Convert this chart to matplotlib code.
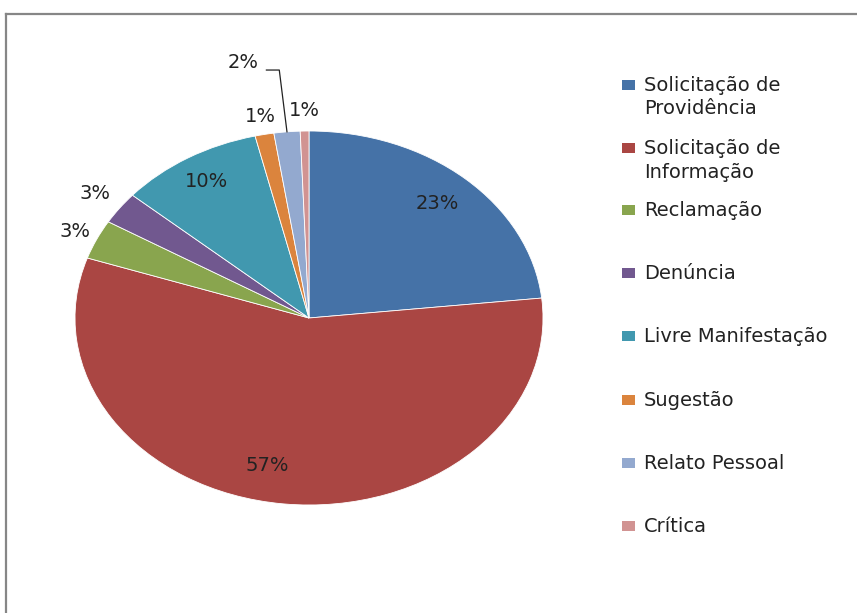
import numpy as np
import matplotlib.pyplot as plt
from matplotlib.patches import Rectangle
from matplotlib.lines import Line2D

categories = [
    "Solicitação de\nProvidência",
    "Solicitação de\nInformação",
    "Reclamação",
    "Denúncia",
    "Livre Manifestação",
    "Sugestão",
    "Relato Pessoal",
    "Crítica",
]
shares = [23.3, 56.9, 3.4, 2.8, 9.9, 1.3, 1.8, 0.6]
colors = ["#4572A7", "#AA4643", "#89A54E", "#71588F",
          "#4198AF", "#DB843D", "#93A9CF", "#D19392"]
# radial distance of each percentage label (1.0 = pie edge)
label_dist = [0.82, 0.81, 1.10, 1.13, 0.85, 1.10, 1.38, 1.11]
# small angular nudge (degrees, clockwise) of each label
label_turn = [0, 6.3, 0, 0, 0, 0, 0, 0]

W, H = 857, 613
fig = plt.figure(figsize=(W / 100, H / 100), dpi=100)
ax = fig.add_axes([75 / W, (H - 505) / H, 468 / W, 374 / H])

wedges, _ = ax.pie(shares, colors=colors, startangle=90, counterclock=False,
                   wedgeprops=dict(edgecolor="white", linewidth=0.6))
ax.set_aspect("auto")
ax.set_xlim(-1, 1)
ax.set_ylim(-1, 1)

fs = 14
for i, w in enumerate(wedges):
    mid = np.deg2rad((w.theta1 + w.theta2) / 2 - label_turn[i])
    r = label_dist[i]
    x, y = r * np.cos(mid), r * np.sin(mid)
    txt = f"{shares[i]:.0f}%"
    if i == 6:
        # small slice with leader line
        x, y = -0.282, 1.364
        ax.text(x, y, txt, ha="center", va="center", fontsize=fs, color="#222222")
        ex, ey = np.cos(mid), np.sin(mid)
        ax.add_line(Line2D([x + 0.1, x + 0.155, ex], [y - 0.038, y - 0.038, ey],
                           color="#222222", linewidth=0.9, clip_on=False))
        continue
    ax.text(x, y, txt, ha="center", va="center", fontsize=fs, color="#222222")

# legend drawn by hand to match the original layout
legend_y = [85, 148, 210, 273, 336, 400, 463, 526]
for lab, col, yp in zip(categories, colors, legend_y):
    fig.patches.append(Rectangle((622 / W, 1 - (yp + 5) / H), 13 / W, 10 / H,
                                 transform=fig.transFigure, facecolor=col,
                                 edgecolor="none"))
    fig.text(644 / W, 1 - (yp - 9) / H, lab, ha="left", va="top",
             fontsize=fs, color="#222222", linespacing=1.3)

# chart border (partly cut off, as in the original)
fig.add_artist(Line2D([6 / W, 1.0], [1 - 14 / H, 1 - 14 / H],
                      transform=fig.transFigure, color="#868686", linewidth=1.6))
fig.add_artist(Line2D([6 / W, 6 / W], [0, 1 - 14 / H],
                      transform=fig.transFigure, color="#868686", linewidth=1.6))

fig.savefig("out.png", dpi=100)
